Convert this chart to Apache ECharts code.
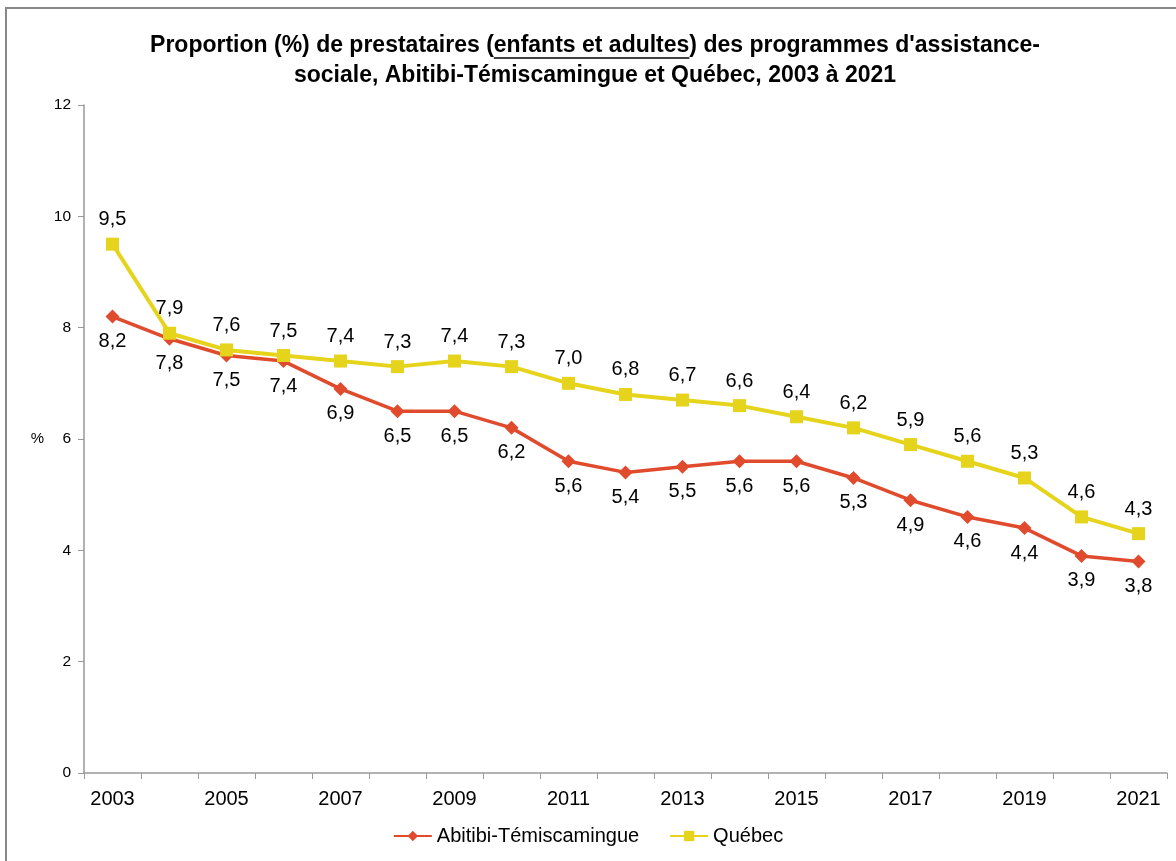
<!DOCTYPE html>
<html>
<head>
<meta charset="utf-8">
<script src="https://cdn.jsdelivr.net/npm/echarts@6/dist/echarts.min.js"></script>
<style>html,body{margin:0;padding:0;background:#fff;}#c{width:1176px;height:861px;}</style>
</head>
<body>
<div id="c"></div>
<script>
const years = ['2003','2004','2005','2006','2007','2008','2009','2010','2011','2012','2013','2014','2015','2016','2017','2018','2019','2020','2021'];
const abitibi = [8.2,7.8,7.5,7.4,6.9,6.5,6.5,6.2,5.6,5.4,5.5,5.6,5.6,5.3,4.9,4.6,4.4,3.9,3.8];
const quebec = [9.5,7.9,7.6,7.5,7.4,7.3,7.4,7.3,7.0,6.8,6.7,6.6,6.4,6.2,5.9,5.6,5.3,4.6,4.3];
const yTicks = [0,2,4,6,8,10,12];

const FONT = 'Liberation Sans, Arial, sans-serif';
const titleLine1Pre = "Proportion (%) de prestataires (";
const titleUnder = "enfants et adultes";
const titleLine1Post = ") des programmes d'assistance-";
const titleLine2 = "sociale, Abitibi-Témiscamingue et Québec, 2003 à 2021";
const TSIZE = 23;
const TFONT = 'bold ' + TSIZE + 'px ' + FONT;

const ctx = document.createElement('canvas').getContext('2d');
ctx.font = TFONT;
const wPre = ctx.measureText(titleLine1Pre).width;
const wUnder = ctx.measureText(titleUnder).width;
const wLine1 = ctx.measureText(titleLine1Pre + titleUnder + titleLine1Post).width;
const titleCenter = 595;
const line1Left = titleCenter - wLine1 / 2;

const fmt = v => Number(v).toFixed(1).replace('.', ',');
const chart = echarts.init(document.getElementById('c'), null, {renderer:'canvas'});
chart.setOption({
  animation: false,
  backgroundColor: '#fff',
  textStyle: {fontFamily: FONT},
  graphic: [
    {type:'rect', shape:{x:6, y:8, width:1200, height:900}, style:{fill:'none', stroke:'#888', lineWidth:2}, silent:true},
    {type:'text', x: titleCenter, y: 46, style:{text: titleLine1Pre + titleUnder + titleLine1Post, font: TFONT, fill:'#000', align:'center', verticalAlign:'middle'}, silent:true},
    {type:'text', x: titleCenter, y: 76, style:{text: titleLine2, font: TFONT, fill:'#000', align:'center', verticalAlign:'middle'}, silent:true},
    {type:'line', shape:{x1:line1Left + wPre, y1:58, x2:line1Left + wPre + wUnder, y2:58}, style:{stroke:'#000', lineWidth:1.5}, silent:true}
  ],
  legend: {
    bottom: 10, left: 'center', itemGap: 30, itemWidth: 38, itemHeight: 13,
    textStyle: {fontFamily: FONT, fontSize: 20, color: '#000'},
    data: ['Abitibi-Témiscamingue','Québec']
  },
  grid: {left: 84, right: 9, top: 105, bottom: 88, containLabel: false},
  xAxis: {
    type: 'category', data: years, boundaryGap: true,
    axisLine: {lineStyle: {color: '#999', width: 1.5}},
    axisTick: {show: true, interval: 0, length: 6, lineStyle: {color: '#999'}},
    axisLabel: {interval: 1, fontSize: 20, color: '#000', margin: 16, fontFamily: FONT}
  },
  yAxis: {
    type: 'value', min: 0, max: 12, interval: 2,
    name: '%', nameLocation: 'middle', nameRotate: 0, nameGap: 40,
    nameTextStyle: {fontSize: 15, color: '#000', fontFamily: FONT},
    splitLine: {show: false},
    axisLine: {show: true, lineStyle: {color: '#999', width: 1.5}},
    axisTick: {show: true, length: 6, lineStyle: {color: '#999'}},
    axisLabel: {fontSize: 15.5, color: '#000', margin: 13, fontFamily: FONT,
      formatter: v => yTicks.includes(v) ? String(v) : ''}
  },
  series: [
    {
      name: 'Abitibi-Témiscamingue', type: 'line', data: abitibi,
      symbol: 'diamond', symbolSize: 14,
      lineStyle: {color: '#E04A2D', width: 3.5},
      itemStyle: {color: '#E04A2D'},
      label: {show: true, position: 'bottom', distance: 8, fontSize: 20, color: '#000', fontFamily: FONT,
        formatter: p => fmt(p.value)},
      z: 2
    },
    {
      name: 'Québec', type: 'line', data: quebec,
      symbol: 'rect', symbolSize: 13,
      lineStyle: {color: '#E6D41C', width: 4},
      itemStyle: {color: '#E6D41C'},
      label: {show: true, position: 'top', distance: 8, fontSize: 20, color: '#000', fontFamily: FONT,
        formatter: p => fmt(p.value)},
      z: 3
    }
  ]
});
</script>
</body>
</html>
